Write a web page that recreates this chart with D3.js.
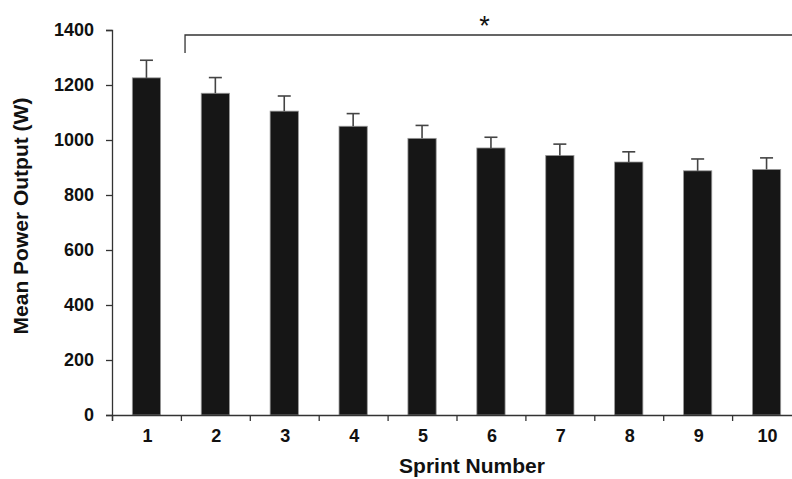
<!DOCTYPE html>
<html><head><meta charset="utf-8">
<script src="https://cdn.jsdelivr.net/npm/d3@7"></script>
<style>body{margin:0;background:#fff}svg{display:block}text{font-family:"Liberation Sans",Arial,sans-serif;font-weight:bold;fill:#111}</style>
</head><body><svg id="c" width="792" height="479"></svg>
<script>
const categories = ["1","2","3","4","5","6","7","8","9","10"];
const meanPower = [1226,1170,1105,1050,1006,971,944,920,888,893];
const errorTop = [1290,1227,1160,1096,1053,1010,985,957,931,935];
const yTicks = [0,200,400,600,800,1000,1200,1400];

const svg = d3.select("#c");
const x = d3.scaleBand().domain(categories).range([112, 801]).paddingInner(0.59).paddingOuter(0.295);
const xb = d3.scaleLinear().domain([0,10]).range([112,801]);
const y = d3.scaleLinear().domain([0,1400]).range([415,30]);

// bars
svg.append("g").selectAll("rect").data(categories).join("rect")
  .attr("x", d => x(d)).attr("width", x.bandwidth())
  .attr("y", (d,i) => y(meanPower[i])).attr("height", (d,i) => y(0) - y(meanPower[i]))
  .attr("fill", "#161616").attr("stroke", "#999").attr("stroke-width", 0.8);

// error bars
const eb = svg.append("g").attr("stroke", "#444").attr("stroke-width", 1.6);
categories.forEach((d,i) => {
  const cx = x(d) + x.bandwidth()/2;
  eb.append("line").attr("x1", cx).attr("x2", cx).attr("y1", y(meanPower[i])).attr("y2", y(errorTop[i]));
  eb.append("line").attr("x1", cx-6.5).attr("x2", cx+6.5).attr("y1", y(errorTop[i])).attr("y2", y(errorTop[i]));
});

// y axis
const ya = svg.append("g").attr("transform","translate(112,0)")
  .call(d3.axisLeft(y).tickValues(yTicks).tickSize(6).tickPadding(12).tickFormat(d3.format("d")));
ya.selectAll("text").style("font-size","18px").style("font-weight","bold").attr("fill","#111");
ya.selectAll("line,path").attr("stroke","#333").attr("stroke-width",1.3);

// x axis
const xa = svg.append("g").attr("transform","translate(0,415)")
  .call(d3.axisBottom(xb).ticks(10).tickSize(6).tickFormat(""));
xa.selectAll("line,path").attr("stroke","#333").attr("stroke-width",1.3);
svg.append("g").selectAll("text").data(categories).join("text")
  .attr("x", d => x(d) + x.bandwidth()/2 + 1).attr("y", 442)
  .attr("text-anchor","middle").style("font-size","18px").text(d => d);

// axis titles
svg.append("text").attr("x", 472).attr("y", 473).attr("text-anchor","middle")
  .style("font-size","21px").text("Sprint Number");
svg.append("text").attr("transform","translate(28,216) rotate(-90)").attr("text-anchor","middle")
  .style("font-size","21px").text("Mean Power Output (W)");

// significance bracket
svg.append("path").attr("d", `M${xb(1.06)},53V35H792`).attr("fill","none").attr("stroke","#333").attr("stroke-width",1.3);
svg.append("text").attr("x", 484.5).attr("y", 35).attr("text-anchor","middle")
  .style("font-size","27px").style("font-weight","normal").attr("fill","#333").text("*");
</script></body></html>
